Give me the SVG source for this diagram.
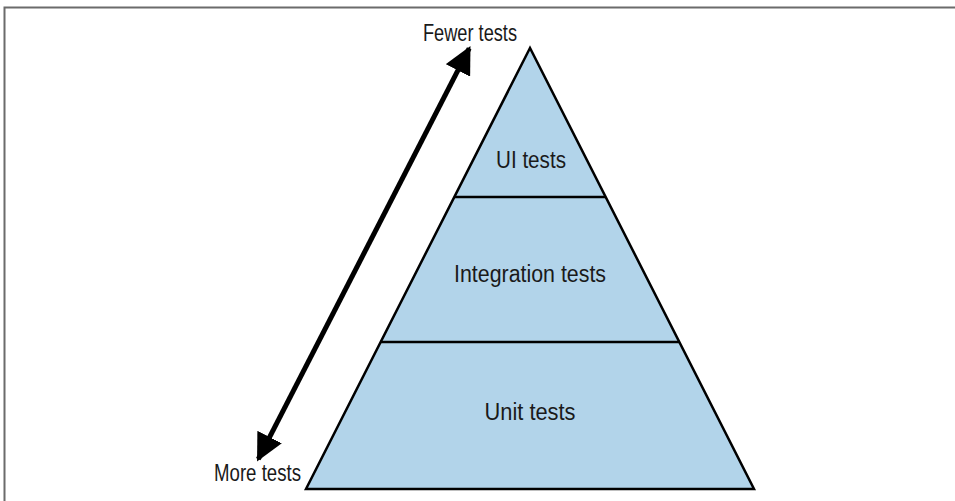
<svg xmlns="http://www.w3.org/2000/svg" width="955" height="501" viewBox="0 0 955 501">
<defs>
<style>
.lbl{font-family:"Liberation Sans",Arial,sans-serif;font-size:23px;fill:#1a1a1a}
.edge{stroke:#000;stroke-width:2.5;fill:none}
</style>
<marker id="ah" viewBox="0 0 10 10" refX="9" refY="5" markerWidth="5.5" markerHeight="5.5" markerUnits="strokeWidth" orient="auto-start-reverse">
<path d="M0,0 L10,5 L0,10 z" fill="#000"/>
</marker>
</defs>
<rect width="955" height="501" fill="#fff"/>
<path d="M4.5,501 V7.5 H955" fill="none" stroke="#6b6b6b" stroke-width="2"/>
<g id="pyramid">
<polygon points="530,48 306,489 754,489" fill="#b2d4ea" stroke="#000" stroke-width="2.5" stroke-linejoin="miter"/>
</g>
<g id="ui">
<line x1="454" y1="197" x2="606" y2="197" class="edge"/>
<text class="lbl" x="531" y="168" text-anchor="middle" textLength="70" lengthAdjust="spacingAndGlyphs" font-size="24">UI tests</text>
</g>
<g id="integration">
<line x1="380" y1="342" x2="680" y2="342" class="edge"/>
<text class="lbl" x="530" y="282" text-anchor="middle" textLength="152" lengthAdjust="spacingAndGlyphs" font-size="24">Integration tests</text>
</g>
<g id="unit">
<text class="lbl" x="530" y="420" text-anchor="middle" textLength="91" lengthAdjust="spacingAndGlyphs" font-size="24">Unit tests</text>
</g>
<g id="connectors">
<line x1="469.2" y1="48.4" x2="258.3" y2="459.1" stroke="#000" stroke-width="5" marker-start="url(#ah)" marker-end="url(#ah)"/>
</g>
<g id="fewer">
<text class="lbl" x="423" y="41" textLength="94" lengthAdjust="spacingAndGlyphs">Fewer tests</text>
</g>
<g id="more">
<text class="lbl" x="214" y="481" textLength="87" lengthAdjust="spacingAndGlyphs">More tests</text>
</g>
</svg>
